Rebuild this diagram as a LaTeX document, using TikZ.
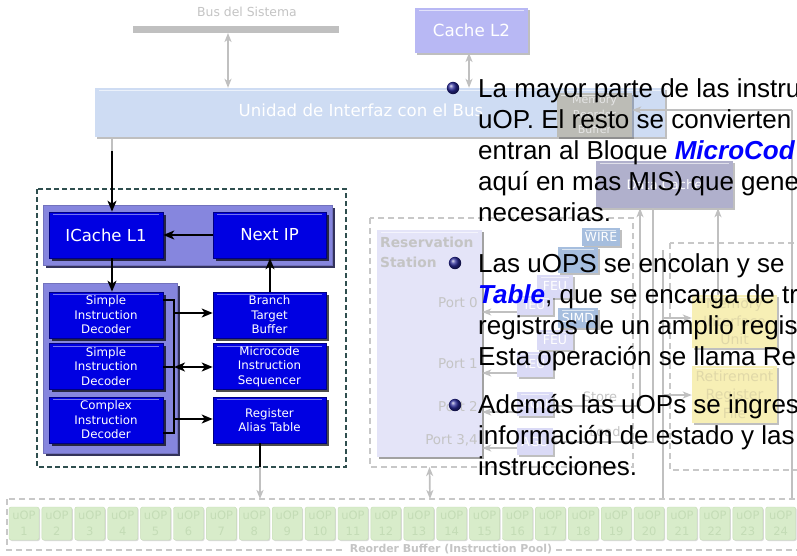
\documentclass[tikz,border=0pt]{standalone}
\usepackage{fontspec}
\setmainfont{Liberation Sans}
\newfontfamily\dv{DejaVu Sans}
\usetikzlibrary{shadows,arrows.meta}
\definecolor{boxblue}{RGB}{0,0,226}
\definecolor{boxedge}{RGB}{0,0,130}
\definecolor{framecol}{RGB}{134,134,222}
\definecolor{lgray}{RGB}{192,192,192}
\definecolor{dgray}{RGB}{200,200,200}
\definecolor{txtgray}{RGB}{196,196,196}
\definecolor{unidad}{RGB}{206,220,243}
\definecolor{cachel}{RGB}{184,184,244}
\definecolor{rsfill}{RGB}{228,228,248}
\definecolor{dcache}{RGB}{176,176,204}
\definecolor{mrbfill}{RGB}{188,188,182}
\definecolor{yel}{RGB}{247,239,181}
\definecolor{yeltxt}{RGB}{224,216,168}
\definecolor{ufill}{RGB}{216,236,202}
\definecolor{uedge}{RGB}{198,221,182}
\definecolor{utxt}{RGB}{196,220,182}
\definecolor{ebox}{RGB}{218,218,246}
\definecolor{sbox}{RGB}{166,190,222}
\definecolor{darkdash}{RGB}{47,79,79}
\definecolor{bulletc}{RGB}{40,40,150}
\tikzset{
  hilite/.style={path picture={\draw[white,opacity=#1,line width=0.8pt] ([xshift=4pt,yshift=-2.5pt]path picture bounding box.north west) -- ([xshift=-4pt,yshift=-2.5pt]path picture bounding box.north east);}},
  bluebox/.style={draw=boxedge, line width=0.6pt, fill=boxblue, text=white, inner sep=0pt,
    font=\dv\fontsize{16.5}{18}\selectfont, align=center,
    drop shadow={shadow xshift=2.5pt,shadow yshift=-2.5pt,opacity=0.7,fill=black}, hilite=0.45},
  decbox/.style={bluebox, font=\dv\fontsize{11.8}{14.5}\selectfont},
  groupframe/.style={fill=framecol, draw=framecol!85!black, line width=0.5pt, inner sep=0pt,
    drop shadow={shadow xshift=3pt,shadow yshift=-3pt,opacity=0.8,fill=black!80!blue}},
  lightbox/.style={inner sep=0pt, text=white, align=center,
    drop shadow={shadow xshift=2pt,shadow yshift=-2pt,opacity=0.25,fill=black}, hilite=0.6},
  exbox/.style={lightbox, fill=ebox, font=\dv\fontsize{12.5}{14}\selectfont},
  stbox/.style={lightbox, fill=sbox, font=\dv\fontsize{12.5}{14}\selectfont},
  uop/.style={fill=ufill, draw=uedge, rounded corners=2pt, minimum width=30pt, minimum height=33pt,
    inner sep=0pt, text=utxt, align=center, font=\dv\fontsize{11.5}{16}\selectfont,
    drop shadow={shadow xshift=1pt,shadow yshift=-1pt,opacity=0.15,fill=black}},
  arr/.style={-{Stealth[length=11pt,width=9pt,inset=3pt]}, line width=1.8pt},
  darr/.style={{Stealth[length=11pt,width=9pt,inset=3pt]}-{Stealth[length=11pt,width=9pt,inset=3pt]}, line width=1.8pt},
  gline/.style={draw=lgray, line width=1.7pt},
  garr/.style={gline, -{Stealth[length=9pt,width=7pt,inset=2.5pt]}},
  gdarr/.style={gline, {Stealth[length=9pt,width=7pt,inset=2.5pt]}-{Stealth[length=9pt,width=7pt,inset=2.5pt]}},
  gdash/.style={draw=dgray, line width=1.6pt, dash pattern=on 6pt off 4pt},
  glabel/.style={text=txtgray, inner sep=0pt, font=\dv\fontsize{13.5}{15}\selectfont},
  btext/.style={anchor=base west, inner sep=0pt, font=\fontsize{26}{31}\selectfont},
}
\begin{document}
\begin{tikzpicture}[x=1pt,y=-1pt]
\useasboundingbox (0,0) rectangle (797,555);
\clip (0,0) rectangle (797,555);
\fill[white] (0,0) rectangle (797,555);

% ---------------- bus and interface ----------------
\node[glabel, font=\dv\fontsize{12.4}{14}\selectfont] (buslbl) at (247,12) {Bus del Sistema};
\coordinate (busL) at (133,29.5);
\coordinate (busR) at (339,29.5);
\draw[draw=lgray, line width=7pt] (busL) -- (busR);
\node[lightbox, fill=unidad, minimum width=570pt, minimum height=49pt] (unidad) at (380,112.5) {};
\node[text=white, inner sep=0pt, font=\dv\fontsize{16.6}{18}\selectfont] (unidadlbl) at (361,110) {Unidad de Interfaz con el Bus};
\coordinate (busA) at (228,33);
\draw[gdarr] (busA) -- (busA |- unidad.north);
\node[lightbox, fill=cachel, minimum width=113pt, minimum height=45pt, font=\dv\fontsize{16.7}{18}\selectfont] (cachel2) at (471.5,30.5) {Cache L2};
\coordinate (l2a) at (469,53);
\draw[gdarr] (l2a) -- (l2a |- unidad.north);
\node[lightbox, fill=mrbfill, text=black!10, minimum width=75pt, minimum height=44pt, font=\dv\fontsize{11}{15}\selectfont] (mrb) at (594.5,115) {Memory\\Reorder\\Buffer};

% ---------------- front end (left) ----------------
\draw[draw=darkdash, line width=1.5pt, dash pattern=on 5pt off 3pt] (37,189) rectangle (346,467);
\node[groupframe, minimum width=289pt, minimum height=60pt] (topframe) at (187.5,235) {};
\node[groupframe, minimum width=134pt, minimum height=170pt] (decframe) at (110,368) {};
\node[bluebox, minimum width=114pt, minimum height=46pt] (icache) at (106,235) {ICache L1};
\node[bluebox, minimum width=113pt, minimum height=46pt] (nextip) at (269.5,235) {Next IP};
\node[decbox, minimum width=114pt, minimum height=46pt] (dec1) at (106,315) {Simple\\Instruction\\Decoder};
\node[decbox, minimum width=114pt, minimum height=46pt] (dec2) at (106,366.5) {Simple\\Instruction\\Decoder};
\node[decbox, minimum width=114pt, minimum height=46pt] (dec3) at (106,420) {Complex\\Instruction\\Decoder};
\node[decbox, minimum width=113pt, minimum height=46pt] (btb) at (269.5,315) {Branch\\Target\\Buffer};
\node[decbox, minimum width=113pt, minimum height=46pt] (mis) at (269.5,366.5) {Microcode\\Instruction\\Sequencer};
\node[decbox, minimum width=113pt, minimum height=46pt] (rat) at (269.5,420) {Register\\Alias Table};

\coordinate (ua) at (112,151);
\draw[gline] (ua |- unidad.south) -- (ua);
\draw[arr] (ua) -- (ua |- icache.north);
\draw[arr] (nextip.west) -- (icache.east);
\coordinate (ic) at (112,258);
\draw[arr] (ic) -- (ic |- dec1.north);
\coordinate (bt) at (270,292);
\draw[arr] (bt) -- (bt |- nextip.south);
% decoder bus
\coordinate (bus1) at (174,300);
\coordinate (bus2) at (174,367);
\coordinate (bus3) at (174,433);
\draw[line width=1.8pt] (dec1.east |- bus1) -- (bus1) -- (bus3) -- (dec3.east |- bus3);
\draw[line width=1.8pt] (dec2.east |- bus2) -- (bus2);
\coordinate (b1) at (174,313);
\coordinate (b3) at (174,419);
\draw[arr] (b1) -- (btb.west |- b1);
\draw[darr] (bus2) -- (mis.west |- bus2);
\draw[arr] (b3) -- (rat.west |- b3);
\coordinate (ra) at (260,467);
\draw[line width=1.8pt] (ra |- rat.south) -- (ra);

% ---------------- reservation station / execution ----------------
\draw[gdash] (370,218) rectangle (633,467);
\node[lightbox, fill=rsfill, minimum width=105pt, minimum height=227pt,
  drop shadow={shadow xshift=2pt,shadow yshift=-2pt,opacity=0.15,fill=black}] (rs) at (429.5,343.5) {};
\node[glabel, anchor=west, align=left, font=\dv\bfseries\fontsize{13.8}{20}\selectfont] (rslbl) at (380,252) {Reservation\\Station};
\node[stbox, minimum width=38pt, minimum height=18pt] (wire) at (601,237) {WIRE};
\node[stbox, minimum width=40pt, minimum height=26pt] (jeu) at (578,260) {};
\node[exbox, minimum width=36pt, minimum height=23pt] (feu1) at (555,286.5) {FEU};
\node[exbox, minimum width=36pt, minimum height=19pt] (ieu1) at (535,305.5) {IEU};
\node[stbox, minimum width=40pt, minimum height=20pt] (simd) at (578,318) {SIMD};
\node[exbox, minimum width=36pt, minimum height=20pt] (feu2) at (555,340) {FEU};
\node[exbox, minimum width=36pt, minimum height=25pt] (ieu2) at (535,364.5) {IEU};
\node[exbox, minimum width=36pt, minimum height=24pt] (agu1) at (535,404) {AGU};
\node[exbox, minimum width=36pt, minimum height=27pt] (agu2) at (535,441.5) {AGU};
\node[glabel, anchor=east] (p0) at (478,303) {Port 0};
\node[glabel, anchor=east] (p1) at (478,364) {Port 1};
\node[glabel, anchor=east] (p2) at (478,407) {Port 2};
\node[glabel, anchor=east] (p34) at (478,440) {Port 3,4};
\coordinate (e0) at (517,312);
\coordinate (e1) at (517,373);
\coordinate (e2) at (517,412);
\coordinate (e3) at (517,448);
\draw[garr] (e0) -- (rs.east |- e0);
\draw[garr] (e1) -- (rs.east |- e1);
\draw[garr] (e2) -- (rs.east |- e2);
\draw[garr] (e3) -- (rs.east |- e3);
\node[glabel, font=\dv\fontsize{13}{15}\selectfont] (storelbl) at (600,397) {Store};
\node[glabel, font=\dv\fontsize{13}{15}\selectfont] (loadlbl) at (605,432) {Load};

% ---------------- memory side ----------------
\node[lightbox, fill=dcache, minimum width=137pt, minimum height=47pt, font=\dv\fontsize{13}{15}\selectfont] (dcache) at (664.5,184.5) {Data Cache};
\coordinate (st) at (640,406);
\coordinate (ld) at (653,442);
\draw[gline] (agu1.east |- st) -- (st);
\draw[garr] (st) -- (st |- dcache.south);
\draw[gline] (agu2.east |- ld) -- (ld) -- (ld |- dcache.south);
\draw[gdash] (670,243) rectangle (815,470);
\node[lightbox, fill=yel, text=yeltxt, minimum width=85pt, minimum height=53pt, font=\dv\fontsize{14}{18}\selectfont] (miu) at (734.5,321.5) {Memory\\Interface\\Unit};
\node[lightbox, fill=yel, text=yeltxt, minimum width=85pt, minimum height=57pt, font=\dv\fontsize{14}{18.5}\selectfont] (rrf) at (734.5,394.5) {Retirement\\Register\\File};
\coordinate (mu) at (718,295);
\draw[garr] (mu) -- (mu |- dcache.south);
\coordinate (vl) at (663,250);
\coordinate (vlb) at (663,499);
\draw[gline] (vl) -- (vlb);
\coordinate (m1) at (663,318);
\coordinate (m2) at (663,395);
\draw[garr] (m1) -- (miu.west |- m1);
\draw[garr] (m2) -- (rrf.west |- m2);
\coordinate (rt) at (792,110);
\coordinate (rb) at (792,499);
\draw[gline] (rb) -- (rt);
\draw[garr] (rt) -- (mrb.east |- rt);

% ---------------- reorder buffer ----------------
\draw[gdash] (7,499) rectangle (815,550);
\foreach \i in {1,...,24} {
  \node[uop] (u\i) at ({24+(\i-1)*32.9},523.5) {uOP\\\i};
}
\node[fill=white, inner xsep=4pt, inner ysep=1pt, text=txtgray, font=\dv\bfseries\fontsize{10.9}{12}\selectfont] (roblbl) at (451,549) {Reorder Buffer (Instruction Pool)};
\coordinate (rsb) at (430,499);
\draw[gdarr] (rs.south |- 0,467) -- (rsb);
\coordinate (rob) at (260,499);
\draw[garr] (ra) -- (rob);

% ---------------- overlaid text ----------------
\shade[ball color=bulletc] (453,88) circle (6.2pt);
\shade[ball color=bulletc] (455,263) circle (6.2pt);
\shade[ball color=bulletc] (455,405) circle (6.2pt);
\node[btext] (t1) at (478,97) {La mayor parte de las instru};
\node[btext] (t2) at (478,128) {uOP. El resto se convierten};
\node[btext] (t3) at (478,159) {entran al Bloque \textcolor{blue}{\textbf{\textit{MicroCod}}}};
\node[btext] (t4) at (478,190) {aquí en mas MIS) que gene};
\node[btext] (t5) at (478,221) {necesarias.};
\node[btext] (t6) at (478,272) {Las uOPS se encolan y se};
\node[btext] (t7) at (478,303) {\textcolor{blue}{\textbf{\textit{Table}}}, que se encarga de tr};
\node[btext] (t8) at (478,334) {registros de un amplio regis};
\node[btext] (t9) at (478,365) {Esta operación se llama Re};
\node[btext] (t10) at (478,413) {Además las uOPs se ingres};
\node[btext] (t11) at (478,444) {información de estado y las};
\node[btext] (t12) at (478,475) {instrucciones.};
\end{tikzpicture}
\end{document}
